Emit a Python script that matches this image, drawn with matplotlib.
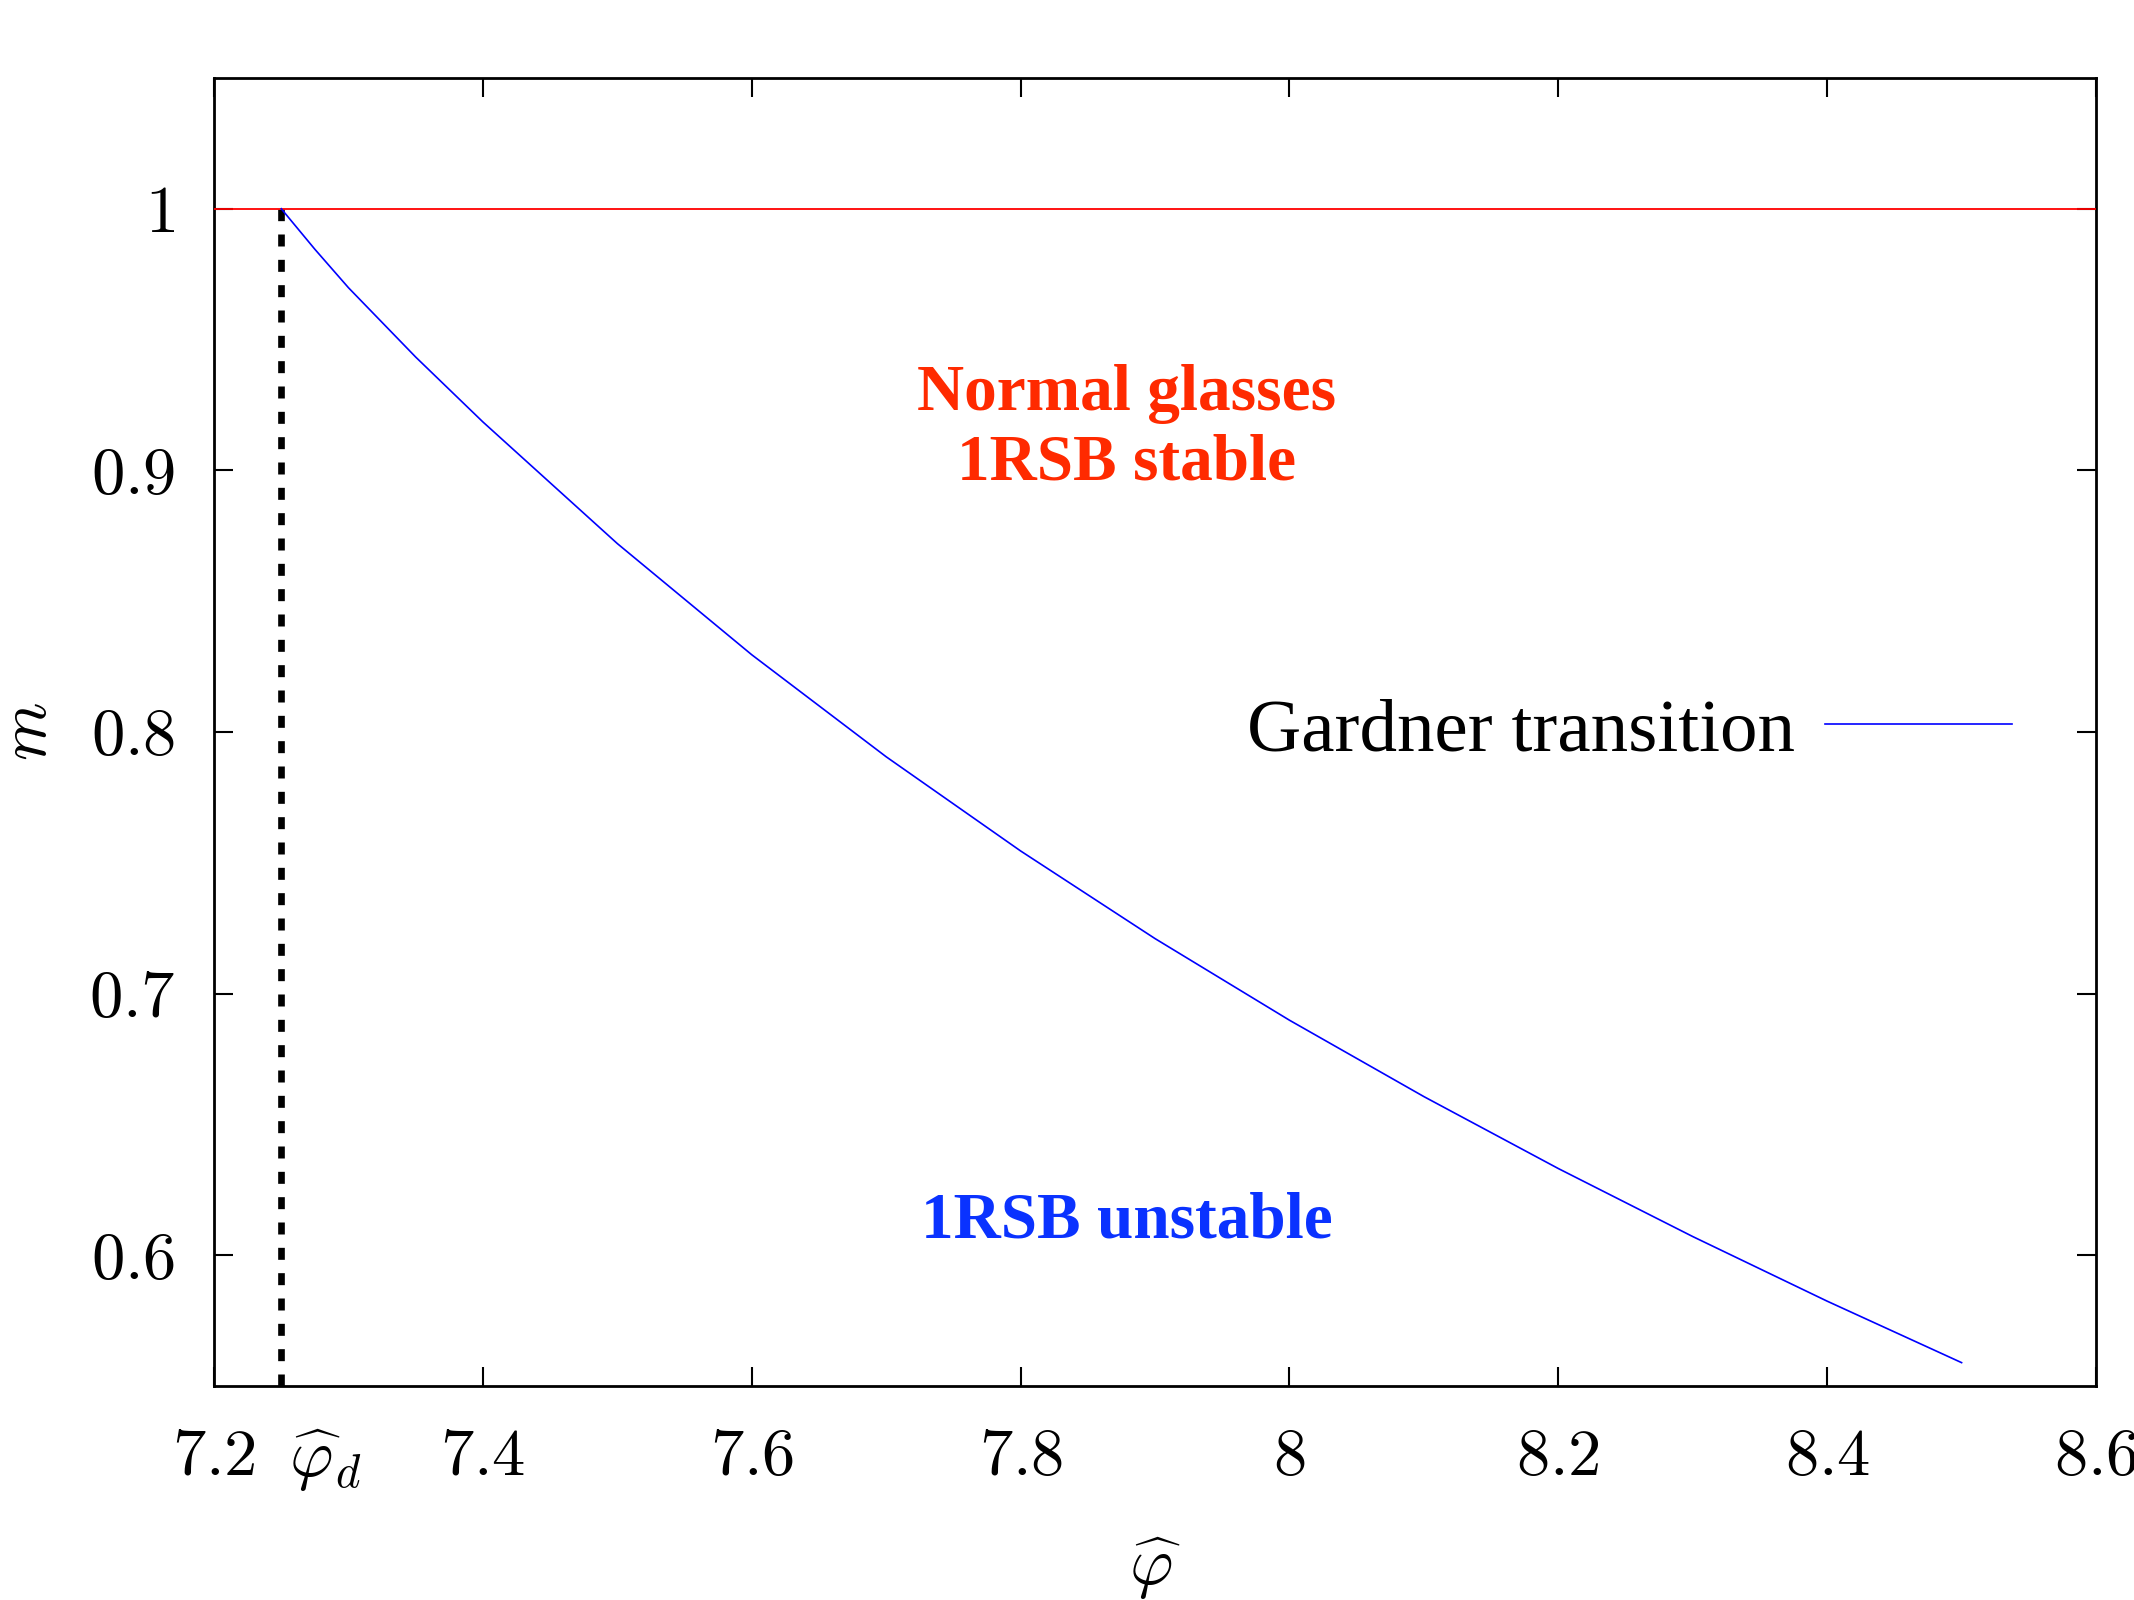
import matplotlib
matplotlib.use("Agg")
import matplotlib.pyplot as plt
import matplotlib.transforms as mtransforms
from matplotlib.lines import Line2D

plt.rcParams['mathtext.fontset'] = 'cm'
plt.rcParams['font.family'] = ['Liberation Serif', 'DejaVu Serif']

# Data
phi = [7.25, 7.275, 7.3, 7.35, 7.4, 7.5, 7.6, 7.7, 7.8, 7.9, 8.0, 8.1, 8.2, 8.3, 8.4, 8.5]
m_gardner = [1.0, 0.9845, 0.9698, 0.9433, 0.9185, 0.872, 0.8295, 0.7905, 0.7545, 0.721,
             0.6898, 0.6606, 0.6331, 0.6071, 0.5824, 0.5589]
phi_d = 7.25
m_one = 1.0
x_ticks = [7.2, 7.25, 7.4, 7.6, 7.8, 8.0, 8.2, 8.4, 8.6]
x_ticklabels = ['$7.2$', r'$\widehat{\varphi}_d$', '$7.4$', '$7.6$', '$7.8$', '$8$', '$8.2$', '$8.4$', '$8.6$']
y_ticks = [0.6, 0.7, 0.8, 0.9, 1.0]
y_ticklabels = ['$0.6$', '$0.7$', '$0.8$', '$0.9$', '$1$']

fig = plt.figure(figsize=(21.34, 16), dpi=100)
ax = fig.add_axes([0.1003, 0.1338, 0.8819, 0.8175])

ax.set_xlim(7.2, 8.6)
ax.set_ylim(0.55, 1.05)

ax.axhline(m_one, color='#ff0000', lw=1.3, zorder=3)
ax.plot([phi_d, phi_d], [0.55, m_one], color='black', lw=4.8,
        linestyle=(0, (1.8, 2.0)), zorder=2)
ax.plot(phi, m_gardner, color='#0000ff', lw=1.2, zorder=4)

ax.set_xticks(x_ticks)
ax.set_xticklabels(x_ticklabels)
ax.set_yticks(y_ticks)
ax.set_yticklabels(y_ticklabels)

ax.tick_params(direction='in', length=14, width=1.5, top=True, right=True,
               labelsize=48)
ax.tick_params(axis='x', pad=30)
ax.tick_params(axis='y', pad=28)
for s in ax.spines.values():
    s.set_linewidth(2.0)

# phi_d tick: no tick marks, label shifted to the right of the dashed line
tk = ax.xaxis.get_major_ticks()[1]
tk.tick1line.set_visible(False)
tk.tick2line.set_visible(False)
lab = ax.get_xticklabels()[1]
lab.set_horizontalalignment('left')
lab.set_transform(lab.get_transform() +
                  mtransforms.ScaledTranslation(8 / 100, 0, fig.dpi_scale_trans))

ax.set_xlabel(r'$\widehat{\varphi}$', fontsize=48, labelpad=30)
ax.set_ylabel(r'$m$', fontsize=48, labelpad=21)

ax.text(7.879, 0.916, 'Normal glasses\n1RSB stable', color='#ff2a00',
        fontsize=47, fontweight='bold', ha='center', va='center',
        linespacing=1.2)
ax.text(7.879, 0.613, '1RSB unstable', color='#0a32ff',
        fontsize=47, fontweight='bold', ha='center', va='center')

handle = Line2D([], [], color='#0000ff', lw=1.2)
leg = ax.legend([handle], ['Gardner transition'], loc='center right',
                bbox_to_anchor=(0.9554, 0.5), frameon=False, markerfirst=False,
                fontsize=54, handlelength=2.5, handletextpad=0.4,
                borderpad=0, borderaxespad=0)

fig.savefig('out.png', dpi=100)
